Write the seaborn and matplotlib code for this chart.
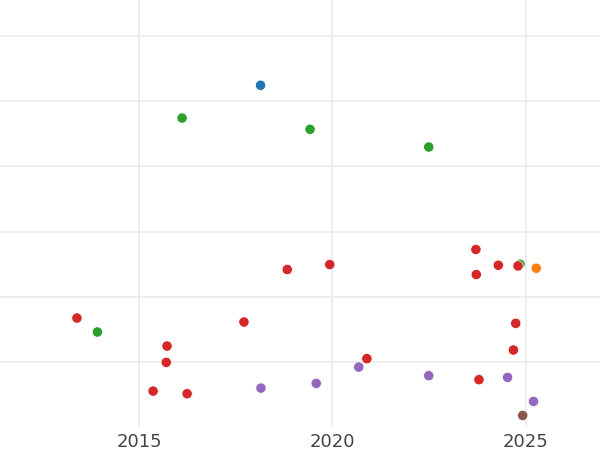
import matplotlib

matplotlib.use("Agg")
import matplotlib.pyplot as plt
import pandas as pd
import seaborn as sns

# values (x = year, y = unlabelled axis)
groups = ["blue", "orange", "green", "red", "purple", "brown"]
blue_x = [2018.14]
blue_y = [4.244]
orange_x = [2025.27]
orange_y = [1.442]
green_x = [2016.11, 2019.42, 2022.49, 2013.92, 2024.85]
green_y = [3.742, 3.569, 3.298, 0.465, 1.503]
red_x = [
    2019.93, 2023.71, 2024.29, 2024.80, 2023.72, 2024.74, 2024.68, 2020.89,
    2023.79, 2018.83, 2013.39, 2015.72, 2017.71, 2015.70, 2015.36, 2016.24,
]
red_y = [
    1.498, 1.729, 1.488, 1.477, 1.345, 0.598, 0.189, 0.057,
    -0.265, 1.422, 0.679, 0.250, 0.618, 0.000, -0.440, -0.480,
]
purple_x = [2018.15, 2019.58, 2020.68, 2022.49, 2024.53, 2025.20]
purple_y = [-0.394, -0.322, -0.072, -0.204, -0.230, -0.598]
brown_x = [2024.92]
brown_y = [-0.813]

x_ticks = [2015, 2020, 2025]
y_ticks = [0, 1, 2, 3, 4, 5]

series = {
    "blue": (blue_x, blue_y),
    "orange": (orange_x, orange_y),
    "green": (green_x, green_y),
    "red": (red_x, red_y),
    "purple": (purple_x, purple_y),
    "brown": (brown_x, brown_y),
}
df = pd.concat(
    pd.DataFrame({"year": xs, "value": ys, "group": g})
    for g, (xs, ys) in series.items()
)

sns.set_theme(style="whitegrid")
palette = dict(zip(groups, sns.color_palette("tab10")))

fig = plt.figure(figsize=(6, 4.5), dpi=100)
ax = fig.add_axes([0, 1 - 427 / 450, 1, 427 / 450])
sns.scatterplot(
    data=df,
    x="year",
    y="value",
    hue="group",
    palette=palette,
    s=55,
    edgecolor="white",
    linewidth=0.5,
    legend=False,
    ax=ax,
)
ax.set_xlim(2011.40, 2026.92)
ax.set_ylim(-0.99, 5.55)
ax.set_xticks(x_ticks)
ax.set_yticks(y_ticks)
ax.set_yticklabels([])
ax.set_xlabel("")
ax.set_ylabel("")
ax.tick_params(length=0, labelsize=13, labelcolor="#444444", pad=4)
ax.grid(color="#ebebeb", linewidth=1.2)
for s in ax.spines.values():
    s.set_visible(False)

fig.savefig("out.png", dpi=100)
